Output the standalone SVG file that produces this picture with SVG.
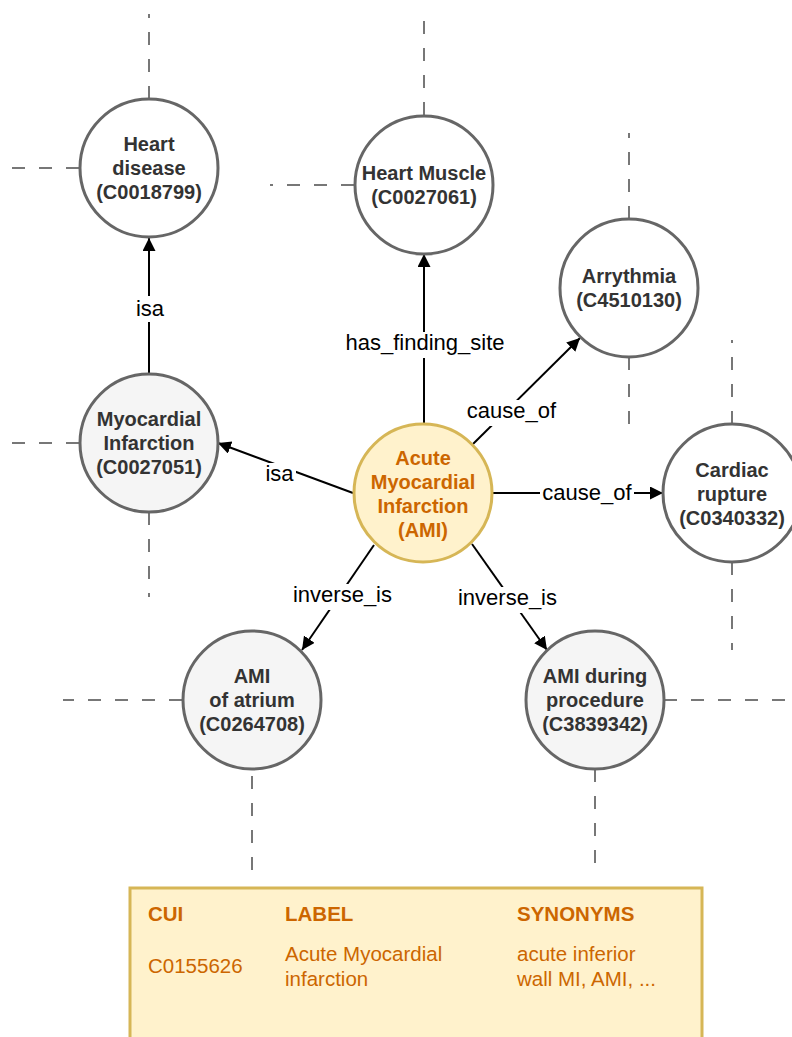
<svg xmlns="http://www.w3.org/2000/svg" width="792" height="1037" viewBox="0 0 792 1037">
<style>
.bg{fill:#ffffff}
.dash{stroke:#777777;stroke-width:2;stroke-dasharray:13 14;fill:none}
.node{stroke:#666666;stroke-width:3;fill:#ffffff}
.grey{fill:#f5f5f5}
.ami{stroke:#d6b656;stroke-width:3;fill:#fff2cc}
.nt{font-family:"Liberation Sans",Arial,sans-serif;font-size:20px;font-weight:bold;fill:#333333;text-anchor:middle}
.at{font-family:"Liberation Sans",Arial,sans-serif;font-size:20px;font-weight:bold;fill:#cc6600;text-anchor:middle}
.edge{stroke:#000000;stroke-width:2;fill:none}
.el{font-family:"Liberation Sans",Arial,sans-serif;font-size:22px;fill:#000000;text-anchor:middle}
.lb{fill:#ffffff}
.bx{fill:#fff2cc;stroke:#d6b656;stroke-width:3}
.bh{font-family:"Liberation Sans",Arial,sans-serif;font-size:20.5px;font-weight:bold;fill:#cc6600}
.bt{font-family:"Liberation Sans",Arial,sans-serif;font-size:20.5px;fill:#cc6600}
</style>
<defs>
<marker id="arr" markerUnits="userSpaceOnUse" markerWidth="14" markerHeight="14" refX="13" refY="6.5" orient="auto">
<path d="M0,0 L13,6.5 L0,13 z" fill="#000000"/>
</marker>
</defs>
<rect class="bg" x="0" y="0" width="792" height="1037"/>

<g id="dashed-lines">
<line class="dash" x1="149" y1="99" x2="149" y2="14"/>
<line class="dash" x1="79" y1="168" x2="12" y2="168"/>
<line class="dash" x1="424" y1="115" x2="424" y2="15"/>
<line class="dash" x1="354" y1="185" x2="270" y2="185"/>
<line class="dash" x1="629" y1="219" x2="629" y2="133"/>
<line class="dash" x1="629" y1="357" x2="629" y2="427"/>
<line class="dash" x1="732" y1="424" x2="732" y2="340"/>
<line class="dash" x1="732" y1="562" x2="732" y2="650"/>
<line class="dash" x1="79" y1="443" x2="12" y2="443"/>
<line class="dash" x1="149" y1="512" x2="149" y2="597"/>
<line class="dash" x1="182" y1="700" x2="63" y2="700"/>
<line class="dash" x1="252" y1="776" x2="252" y2="872"/>
<line class="dash" x1="664" y1="700" x2="792" y2="700"/>
<line class="dash" x1="595" y1="769" x2="595" y2="866"/>
</g>

<g id="connectors">
<line class="edge" x1="149" y1="373" x2="149" y2="238" marker-end="url(#arr)"/>
<line class="edge" x1="424" y1="424" x2="424" y2="254" marker-end="url(#arr)"/>
<line class="edge" x1="473" y1="444" x2="580" y2="338" marker-end="url(#arr)"/>
<line class="edge" x1="492" y1="493" x2="663" y2="493" marker-end="url(#arr)"/>
<line class="edge" x1="353" y1="493" x2="218" y2="443" marker-end="url(#arr)"/>
<line class="edge" x1="374" y1="545" x2="302" y2="650" marker-end="url(#arr)"/>
<line class="edge" x1="472" y1="544" x2="547" y2="650" marker-end="url(#arr)"/>
<rect class="lb" x="134" y="296" width="32" height="26"/>
<text class="el" x="150" y="316">isa</text>
<rect class="lb" x="343" y="332" width="164" height="26"/>
<text class="el" x="425" y="350">has_finding_site</text>
<rect class="lb" x="464" y="400" width="95" height="26"/>
<text class="el" x="511.5" y="418">cause_of</text>
<rect class="lb" x="540" y="482" width="94" height="26"/>
<text class="el" x="587" y="500">cause_of</text>
<rect class="lb" x="264" y="463" width="32" height="26"/>
<text class="el" x="279.5" y="481">isa</text>
<rect class="lb" x="291" y="584" width="103" height="26"/>
<text class="el" x="342.5" y="602">inverse_is</text>
<rect class="lb" x="456" y="587" width="103" height="26"/>
<text class="el" x="507.5" y="605">inverse_is</text>
</g>

<g id="heart-disease">
<circle class="node" cx="149" cy="168" r="69"/>
<text class="nt" x="149" y="151">Heart</text>
<text class="nt" x="149" y="175">disease</text>
<text class="nt" x="149" y="199">(C0018799)</text>
</g>

<g id="heart-muscle">
<circle class="node" cx="424" cy="185" r="69"/>
<text class="nt" x="424" y="180">Heart Muscle</text>
<text class="nt" x="424" y="204">(C0027061)</text>
</g>

<g id="arrythmia">
<circle class="node" cx="629" cy="288" r="69"/>
<text class="nt" x="629" y="283">Arrythmia</text>
<text class="nt" x="629" y="307">(C4510130)</text>
</g>

<g id="cardiac-rupture">
<circle class="node" cx="732" cy="493" r="69"/>
<text class="nt" x="732" y="477">Cardiac</text>
<text class="nt" x="732" y="501">rupture</text>
<text class="nt" x="732" y="525">(C0340332)</text>
</g>

<g id="myocardial-infarction">
<circle class="node grey" cx="149" cy="443" r="69"/>
<text class="nt" x="149" y="426">Myocardial</text>
<text class="nt" x="149" y="450">Infarction</text>
<text class="nt" x="149" y="474">(C0027051)</text>
</g>

<g id="ami">
<circle class="ami" cx="423" cy="493" r="69"/>
<text class="at" x="423" y="465">Acute</text>
<text class="at" x="423" y="489">Myocardial</text>
<text class="at" x="423" y="513">Infarction</text>
<text class="at" x="423" y="537">(AMI)</text>
</g>

<g id="ami-atrium">
<circle class="node grey" cx="252" cy="700" r="69"/>
<text class="nt" x="252" y="683">AMI</text>
<text class="nt" x="252" y="707">of atrium</text>
<text class="nt" x="252" y="731">(C0264708)</text>
</g>

<g id="ami-procedure">
<circle class="node grey" cx="595" cy="700" r="69"/>
<text class="nt" x="595" y="683">AMI during</text>
<text class="nt" x="595" y="707">procedure</text>
<text class="nt" x="595" y="731">(C3839342)</text>
</g>

<g id="info-box">
<rect class="bx" x="130" y="888" width="572" height="170"/>
<text class="bh" x="148" y="921">CUI</text>
<text class="bh" x="285" y="921">LABEL</text>
<text class="bh" x="517" y="921">SYNONYMS</text>
<text class="bt" x="148" y="973">C0155626</text>
<text class="bt" x="285" y="961">Acute Myocardial</text>
<text class="bt" x="285" y="986">infarction</text>
<text class="bt" x="517" y="961">acute inferior</text>
<text class="bt" x="517" y="986">wall MI, AMI, ...</text>
</g>
</svg>
